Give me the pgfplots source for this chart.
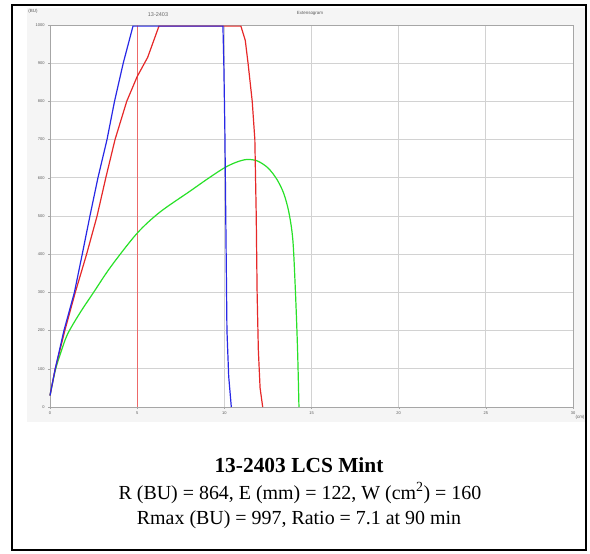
\documentclass[border=0pt]{standalone}
\usepackage{pgfplots}
\pgfplotsset{compat=1.18}
\usepackage{fontspec}
\setmainfont{Liberation Serif}
\newfontfamily\chartfont{Liberation Sans}

\definecolor{curveblue}{RGB}{40,40,230}
\definecolor{curvered}{RGB}{230,40,40}
\definecolor{curvegreen}{RGB}{40,225,40}

\begin{document}
\begin{tikzpicture}[x=1bp,y=1bp]
\useasboundingbox (0,0) rectangle (590,554);
% light chart panel and outer frame
\fill[black!4] (27,132) rectangle (586,546);
\draw[black, line width=1.6bp] (12,4) rectangle (586,549);

\begin{axis}[
    at={(50bp,147bp)}, anchor=south west,
    scale only axis,
    width=523bp, height=382bp,
    xmin=0, xmax=30, ymin=0, ymax=1000,
    xtick={0,5,...,30}, ytick={0,100,...,1000},
    grid=major,
    major grid style={gray!35, line width=0.9bp},
    axis line style={gray!70, line width=0.9bp},
    axis background/.style={fill=white},
    tick pos=left, tick align=outside,
    major tick length=2bp,
    tick style={gray!70},
    tick label style={font=\chartfont\fontsize{4}{4}\selectfont, text=gray!70!black},
    xticklabel style={yshift=1bp},
    /pgf/number format/assume math mode=true,
    /pgf/number format/1000 sep={},
    clip=false,
]
% time marker
\addplot[curvered!70, line width=0.8bp] coordinates {(5,0) (5,1000)};

% green curve
\addplot[curvegreen, line width=1.2bp, smooth, tension=0.5] coordinates {
    (0,30) (0.3,95) (0.6,140) (1.0,190) (1.7,245) (2.5,300) (3.5,368)
    (5.0,455) (6.3,510) (8.0,564) (9.0,596) (10.0,626) (10.7,641)
    (11.3,648) (11.9,644) (12.5,626) (13.0,597) (13.4,560) (13.7,510)
    (13.93,437) (14.08,300) (14.2,150) (14.28,0)
};
% red curve
\addplot[curvered, line width=1.2bp] coordinates {
    (0,30) (0.3,100) (0.85,200) (1.45,300) (2.1,400) (2.7,500) (3.2,600)
    (3.73,700) (4.4,800) (5.0,865) (5.6,915) (6.25,997) (10.95,997)
    (11.2,960) (11.36,900) (11.6,800) (11.75,700) (11.83,500) (11.88,300)
    (11.95,150) (12.05,50) (12.2,0)
};
% blue curve
\addplot[curveblue, line width=1.2bp] coordinates {
    (0,30) (0.3,100) (0.8,200) (1.4,300) (1.85,400) (2.29,500) (2.75,600)
    (3.27,700) (3.7,800) (4.2,900) (4.76,997) (9.92,997) (9.97,900)
    (10.03,725) (10.15,200) (10.25,80) (10.4,0)
};
\end{axis}

% small chart captions
\node[font=\chartfont\fontsize{4.5}{5}\selectfont, text=gray!70!black] at (33,543) {(BU)};
\node[font=\chartfont\fontsize{4.5}{5}\selectfont, text=gray!70!black] at (580,137) {(cm)};
\node[font=\chartfont\fontsize{5.5}{6}\selectfont, text=gray!80!black] at (158,539) {13-2403};
\node[font=\chartfont\fontsize{4.5}{5}\selectfont, text=gray!70!black] at (310,541) {Extensogram};

% caption below
\node[font=\bfseries\fontsize{21.5}{23}\selectfont] at (299,89) {13-2403 LCS Mint};
\node[font=\fontsize{20}{22}\selectfont] at (300,61) {R (BU) = 864, E (mm) = 122, W (cm\textsuperscript{2}) = 160};
\node[font=\fontsize{20}{22}\selectfont] at (299,34) {Rmax (BU) = 997, Ratio = 7.1 at 90 min};
\end{tikzpicture}
\end{document}
